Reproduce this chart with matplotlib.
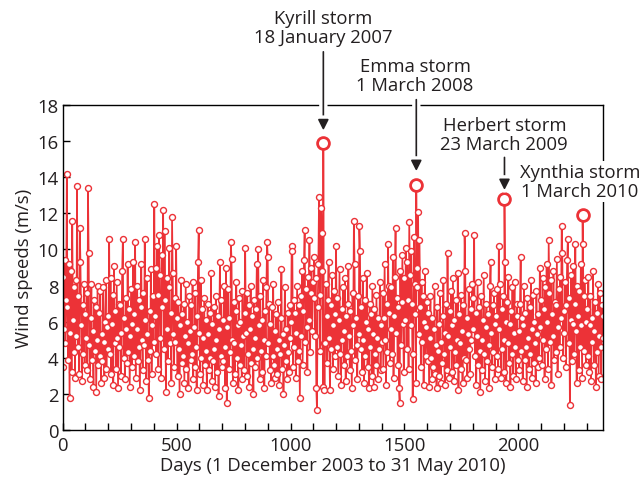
import numpy as np
import matplotlib
matplotlib.use("Agg")
import matplotlib.pyplot as plt
from matplotlib import patheffects as pe

# daily wind speed (m/s), read every third day from the chart
wind_speed = [
    3.5, 8.5, 5.6, 9.4, 4.8, 7.2, 14.2, 6.8, 3.9, 9.2, 1.8, 5.4, 8.8, 3.2, 11.6, 6.1, 4.3, 7.9, 2.9, 8.3, 5.2, 13.5, 4.6, 7.4, 3.1, 11.2, 9.3, 5.8, 2.7, 6.9, 4.2, 8.1, 3.6, 6.4,
    5.1, 7.6, 3.3, 13.4, 9.8, 4.7, 2.8, 6.2, 8.1, 3.9, 5.5, 2.4, 7.2, 4.4, 6.8, 2.1, 5.0, 8.0, 3.6, 6.5, 4.1, 7.7, 2.6, 5.3, 3.8, 7.9, 4.9, 2.9, 6.0, 8.3, 3.4, 5.7, 4.5,
    6.3, 10.6, 4.2, 8.4, 3.1, 5.9, 7.5, 2.5, 9.1, 4.8, 6.6, 3.4, 8.2, 5.1, 2.3, 7.0, 4.6, 6.9, 3.0, 5.4, 8.8, 10.6, 4.0, 6.2, 2.8, 7.3, 5.6, 3.7, 9.2, 4.3, 6.7, 2.4, 5.2,
    7.8, 3.5, 5.9, 9.3, 4.1, 6.4, 10.4, 2.9, 5.6, 8.0, 3.8, 7.2, 4.6, 2.2, 6.8, 9.2, 5.0, 3.3, 7.6, 4.7, 10.6, 6.1, 2.7, 8.4, 5.3, 3.9, 1.8, 6.6, 4.4, 8.9, 3.1, 5.8, 7.4, 4.9,
    12.5, 6.3, 9.0, 4.2, 10.2, 7.5, 3.4, 10.8, 8.6, 5.1, 2.9, 9.7, 6.8, 12.2, 4.5, 11.0, 7.2, 2.1, 8.4, 5.6, 3.8, 7.9, 10.1, 4.8, 6.5, 2.6, 11.8, 8.7, 5.3, 3.5, 7.3, 4.9, 10.2,
    6.2, 3.0, 7.1, 4.5, 2.0, 5.8, 8.3, 3.7, 6.4, 4.1, 7.0, 2.6, 5.2, 8.1, 3.4, 6.0, 4.8, 2.3, 7.4, 5.5, 3.9, 6.9, 4.2, 8.2, 2.8, 5.7, 3.5, 7.6, 4.6, 2.2, 6.3, 9.3, 11.1,
    5.4, 3.1, 8.3, 4.0, 6.7, 2.5, 5.1, 7.3, 3.6, 6.1, 4.4, 2.2, 7.0, 5.3, 3.3, 6.5, 4.0, 8.7, 2.7, 5.9, 3.8, 6.8, 4.5, 2.4, 7.4, 5.0, 3.2, 6.3, 1.9, 5.6, 9.3, 4.1, 7.2, 3.5,
    6.1, 3.8, 8.0, 4.6, 2.3, 9.0, 1.5, 5.7, 7.8, 3.4, 6.2, 4.3, 10.4, 9.5, 5.0, 2.6, 7.1, 4.8, 3.1, 6.6, 8.2, 4.0, 5.8, 2.2, 7.3, 3.6, 6.0, 4.7, 2.8, 7.7, 5.2, 3.3, 6.5,
    10.1, 5.4, 3.0, 7.6, 4.2, 6.9, 2.4, 5.6, 8.0, 3.7, 6.3, 4.5, 2.0, 7.2, 5.1, 3.5, 6.7, 9.2, 4.0, 10.0, 5.8, 2.8, 7.4, 4.4, 6.1, 3.2, 8.3, 5.0, 2.3, 6.6, 4.1, 7.9, 10.4,
    9.6, 4.8, 7.0, 3.3, 5.9, 2.6, 6.8, 4.1, 8.1, 3.6, 5.5, 2.9, 6.4, 4.5, 3.1, 7.1, 5.0, 2.5, 4.2, 6.2, 8.9, 3.4, 5.3, 2.0, 4.7, 7.9, 3.8, 5.6, 2.8, 6.5, 4.3, 3.2, 6.9, 5.1,
    6.0, 10.2, 9.9, 3.5, 7.2, 4.6, 6.5, 2.9, 5.4, 8.0, 3.8, 6.9, 4.4, 1.8, 7.4, 5.2, 8.8, 3.6, 6.6, 9.4, 11.1, 4.9, 7.8, 5.7, 3.2, 8.5, 6.1, 10.5, 4.3, 7.6, 9.0, 5.5, 8.2,
    7.3, 9.6, 5.2, 8.4, 2.3, 1.1, 6.8, 9.2, 12.9, 7.5, 4.4, 12.3, 10.9, 8.8, 2.4, 4.8, 2.2, 4.8, 8.1, 6.3, 3.7, 7.2, 9.3, 5.1, 2.2, 6.9, 4.5, 8.6, 3.4, 5.8, 7.7, 4.1, 6.4,
    10.2, 4.6, 7.3, 3.0, 6.1, 8.9, 4.2, 2.5, 6.7, 5.0, 7.9, 3.6, 5.5, 8.4, 2.7, 6.3, 4.1, 7.0, 9.1, 5.2, 3.3, 6.6, 4.4, 2.3, 7.6, 5.8, 11.6, 9.2, 3.9, 6.2, 4.7, 2.8, 7.4, 5.3,
    11.3, 9.9, 4.5, 6.8, 3.2, 8.4, 5.0, 2.6, 7.2, 4.1, 6.0, 8.7, 3.5, 5.6, 2.3, 7.0, 4.6, 6.4, 3.0, 8.0, 5.3, 2.4, 6.7, 4.2, 3.6, 7.5, 5.1, 2.8, 6.2, 4.5, 8.2, 3.3, 5.8,
    4.9, 7.6, 3.4, 6.2, 9.2, 5.0, 2.5, 7.0, 4.3, 10.3, 6.5, 8.0, 3.7, 5.6, 7.9, 4.2, 9.6, 2.9, 6.3, 8.5, 11.2, 5.4, 7.3, 3.6, 6.8, 2.3, 1.5, 8.8, 4.7, 7.1, 9.7, 5.9, 3.2,
    8.4, 6.1, 10.1, 4.5, 9.3, 7.2, 3.4, 11.5, 8.6, 5.8, 9.9, 7.0, 1.7, 4.2, 10.7, 8.1, 6.4, 2.6, 7.9, 9.0, 12.1, 5.3, 10.5, 6.8, 3.5, 8.2, 4.9, 7.4, 2.5, 6.0, 8.8, 4.1, 5.7, 7.1,
    3.8, 6.5, 2.4, 5.1, 7.4, 4.0, 2.8, 6.2, 3.5, 5.6, 8.0, 3.1, 4.7, 2.3, 6.8, 4.4, 3.0, 5.9, 7.6, 2.6, 4.9, 3.7, 6.3, 8.3, 4.2, 2.5, 5.4, 7.0, 3.3, 9.8, 5.2, 2.9, 6.6,
    4.6, 7.7, 3.2, 5.8, 8.4, 2.7, 6.1, 4.3, 7.2, 3.6, 5.0, 8.7, 2.2, 6.4, 4.8, 3.4, 7.5, 5.5, 2.6, 6.9, 4.0, 10.9, 8.8, 3.9, 6.2, 2.9, 5.3, 7.8, 4.5, 3.1, 6.7, 5.0, 8.1,
    5.6, 7.3, 10.8, 4.1, 6.5, 2.5, 5.2, 8.2, 3.6, 6.8, 4.4, 2.1, 7.4, 5.0, 3.3, 6.1, 8.6, 4.2, 2.7, 5.7, 7.0, 3.8, 6.4, 4.7, 2.3, 8.0, 9.3, 5.4, 3.5, 6.9, 4.3, 7.6, 2.8, 5.9,
    6.3, 4.1, 7.8, 3.4, 10.2, 5.6, 8.1, 2.9, 6.7, 4.5, 7.4, 3.2, 5.0, 9.3, 6.0, 2.6, 7.1, 4.8, 8.5, 3.7, 5.9, 2.4, 6.6, 4.2, 7.9, 3.0, 5.4, 8.2, 4.6, 2.8, 6.3, 7.0, 3.9,
    5.5, 3.3, 7.0, 9.6, 4.4, 6.2, 2.7, 5.8, 8.0, 3.9, 6.5, 4.6, 2.4, 7.3, 5.1, 3.4, 6.8, 4.2, 8.3, 2.9, 5.6, 7.5, 3.7, 6.0, 4.8, 2.6, 7.7, 5.3, 3.5, 6.4, 4.0, 9.0, 5.7,
    7.2, 3.6, 8.4, 5.0, 6.7, 2.8, 7.9, 4.5, 9.2, 6.0, 3.4, 10.5, 7.6, 4.9, 8.3, 2.5, 6.4, 5.2, 8.8, 3.9, 7.1, 4.3, 6.9, 9.5, 3.1, 5.7, 7.8, 4.6, 8.5, 6.2, 11.3, 9.8, 4.0, 6.6,
    5.4, 8.2, 3.5, 6.9, 9.4, 10.6, 4.8, 7.3, 1.4, 6.1, 8.6, 3.8, 5.9, 9.1, 4.2, 7.0, 10.3, 5.5, 2.6, 8.0, 6.3, 3.3, 7.7, 4.6, 9.2, 5.8, 2.9, 10.3, 7.4, 4.4, 8.3, 6.0, 3.6,
    6.7, 4.1, 8.5, 3.2, 5.8, 7.4, 2.7, 6.2, 4.9, 8.8, 3.6, 5.5, 7.1, 2.4, 6.5, 4.3, 8.1, 3.0, 5.2, 7.6, 4.6, 2.8, 6.9, 5.1, 6.3,
]
sample_step = 3  # days between the read-off samples

storm_names = ["Kyrill storm", "Emma storm", "Herbert storm", "Xynthia storm"]
storm_dates = ["18 January 2007", "1 March 2008", "23 March 2009", "1 March 2010"]
storm_days = [1144, 1552, 1939, 2282]
storm_speeds = [15.9, 13.6, 12.8, 11.9]

red = "#ec3237"
ink = "#231f20"
fs = 13.3

days = np.arange(len(wind_speed)) * sample_step
all_days = np.concatenate([days, storm_days])
all_speed = np.concatenate([wind_speed, storm_speeds])
order = np.argsort(all_days, kind="stable")

plt.rcParams["font.family"] = ["Open Sans", "DejaVu Sans"]

fig = plt.figure(figsize=(6.43, 4.85), dpi=100)
ax = fig.add_axes([0.0975, 0.1113, 0.8405, 0.67])

ax.plot(all_days[order], all_speed[order], color=red, lw=1.2, marker="o",
        ms=4.3, mfc="white", mec=red, mew=1.0, zorder=2)
ax.plot(storm_days, storm_speeds, ls="none", marker="o", ms=8.5,
        mfc="white", mec=red, mew=2.0, zorder=3)

ax.set_xlim(0, 2372)
ax.set_ylim(0, 18)
ax.set_xticks(np.arange(0, 2001, 500))
ax.set_xticks(np.arange(0, 2372, 100), minor=True)
ax.set_yticks(np.arange(0, 19, 2))
ax.tick_params(axis="both", which="both", direction="in", length=5, width=1,
               labelsize=fs, top=False, right=False, color="black",
               labelcolor=ink)
ax.tick_params(axis="x", which="both", pad=4.5)
ax.tick_params(axis="y", which="both", pad=3)
for s in ax.spines.values():
    s.set_linewidth(1.0)
ax.set_xlabel("Days (1 December 2003 to 31 May 2010)", fontsize=fs,
              labelpad=1.5, color=ink)
ax.set_ylabel("Wind speeds (m/s)", fontsize=fs, labelpad=3, color=ink)

# storm labels and arrows: (text y, arrow start, arrow tip) in data units
label_y = [22.3, 19.63, 16.36, 13.76]
arrow_from = [20.95, 18.3, 15.1, None]
arrow_to = [16.6, 14.34, 13.29, None]
label_x = [1144, 1547, 1938, 2271]

halo = [pe.withStroke(linewidth=6, foreground="white")]
for i in range(len(storm_names)):
    ax.text(label_x[i], label_y[i], storm_names[i] + "\n" + storm_dates[i],
            ha="center", va="center", fontsize=fs, linespacing=1.1,
            color=ink, zorder=5, clip_on=False,
            bbox=dict(facecolor="white", edgecolor="none", pad=1.5))
    if arrow_from[i] is not None:
        ax.annotate("", xy=(storm_days[i], arrow_to[i]),
                    xytext=(storm_days[i], arrow_from[i]),
                    annotation_clip=False, zorder=6,
                    arrowprops=dict(arrowstyle="-|>", color=ink, lw=1.2,
                                    mutation_scale=16, shrinkA=0, shrinkB=0,
                                    path_effects=halo))

fig.savefig("out.png", dpi=100)
